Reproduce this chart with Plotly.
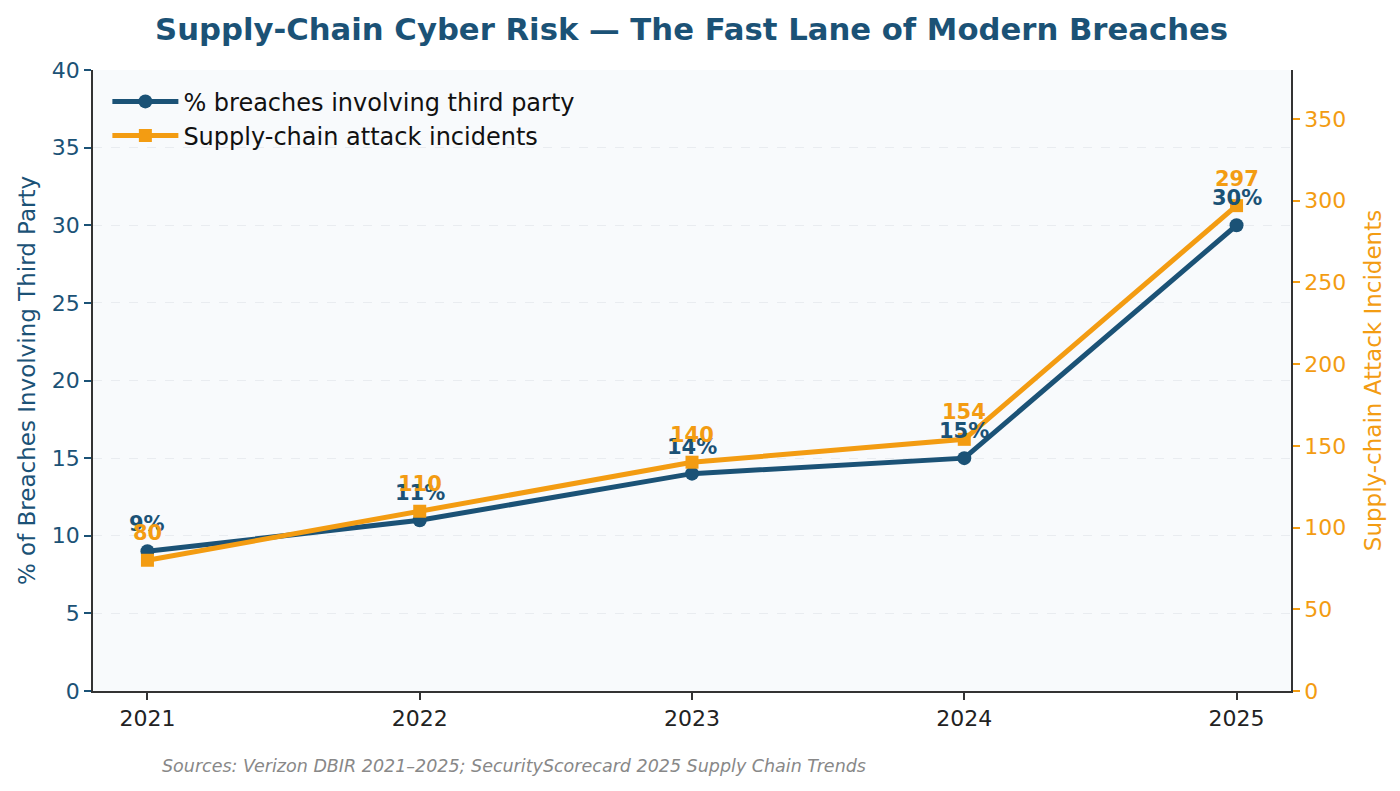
import plotly.graph_objects as go

years = [2021, 2022, 2023, 2024, 2025]
pct_third_party = [9, 11, 14, 15, 30]
supply_chain_incidents = [80, 110, 140, 154, 297]
pct_labels = ["9%", "11%", "14%", "15%", "30%"]
inc_labels = ["80", "110", "140", "154", "297"]

BLUE = "#1b5276"
ORANGE = "#f39c12"
FONT = "DejaVu Sans"

fig = go.Figure()
fig.add_trace(go.Scatter(
    x=years, y=pct_third_party, mode="lines+markers",
    name="% breaches involving third party",
    line=dict(color=BLUE, width=5), marker=dict(symbol="circle", size=14, color=BLUE),
    yaxis="y"))
fig.add_trace(go.Scatter(
    x=years, y=supply_chain_incidents, mode="lines+markers",
    name="Supply-chain attack incidents",
    line=dict(color=ORANGE, width=5), marker=dict(symbol="square", size=13, color=ORANGE),
    yaxis="y2"))

for x, y, t in zip(years, pct_third_party, pct_labels):
    fig.add_annotation(x=x, y=y, xref="x", yref="y", text=f"<b>{t}</b>", showarrow=False,
                       yshift=27, font=dict(family=FONT, size=21, color=BLUE))
for x, y, t in zip(years, supply_chain_incidents, inc_labels):
    fig.add_annotation(x=x, y=y, xref="x", yref="y2", text=f"<b>{t}</b>", showarrow=False,
                       yshift=27, font=dict(family=FONT, size=21, color=ORANGE))

fig.add_annotation(x=(160 - 93) / (1400 - 93 - 109), y=-(766 - 691) / (691 - 70),
                   xref="paper", yref="paper",
                   text="<i>Sources: Verizon DBIR 2021–2025; SecurityScorecard 2025 Supply Chain Trends</i>",
                   showarrow=False, xanchor="left", yanchor="middle",
                   font=dict(family=FONT, size=17.5, color="#888888"))

fig.update_layout(
    width=1400, height=791,
    margin=dict(l=93, r=109, t=70, b=100),
    paper_bgcolor="white", plot_bgcolor="#f8fafc",
    font=dict(family=FONT, size=20, color="#222222"),
    title=dict(text="<b>Supply-Chain Cyber Risk — The Fast Lane of Modern Breaches</b>",
               x=0.494, xanchor="center", y=0.963, yanchor="middle",
               font=dict(family=FONT, size=30.7, color=BLUE)),
    xaxis=dict(range=[2020.8, 2025.2], tickvals=years, ticktext=[str(y) for y in years],
               showgrid=False, zeroline=False, showline=True, linecolor="#333333", linewidth=1.5,
               ticks="outside", ticklen=7, tickwidth=1.5, tickcolor="#333333",
               tickfont=dict(family=FONT, size=22, color="#222222")),
    yaxis=dict(range=[0, 40], dtick=5, showgrid=True, gridcolor="#e9ecf0", griddash="dash", gridwidth=1,
               zeroline=False, showline=True, linecolor="#333333", linewidth=1.5,
               ticks="outside", ticklen=7, tickwidth=1.5, tickcolor=BLUE,
               tickfont=dict(family=FONT, size=22, color=BLUE),
               title=dict(text="% of Breaches Involving Third Party", standoff=10,
                          font=dict(family=FONT, size=23, color=BLUE))),
    yaxis2=dict(range=[0, 380], tickvals=[0, 50, 100, 150, 200, 250, 300, 350], overlaying="y", side="right",
                showgrid=False, zeroline=False, showline=True, linecolor="#333333", linewidth=1.5,
                ticks="outside", ticklen=7, tickwidth=1.5, tickcolor=ORANGE,
                tickfont=dict(family=FONT, size=22, color=ORANGE),
                title=dict(text="Supply-chain Attack Incidents", standoff=20,
                           font=dict(family=FONT, size=23, color=ORANGE))),
    legend=dict(x=0.012, y=0.985, xanchor="left", yanchor="top", bgcolor="rgba(0,0,0,0)",
                font=dict(family=FONT, size=24, color="#111111"), itemwidth=66,
                tracegroupgap=4),
    showlegend=True,
)

fig.write_html("out.html")
